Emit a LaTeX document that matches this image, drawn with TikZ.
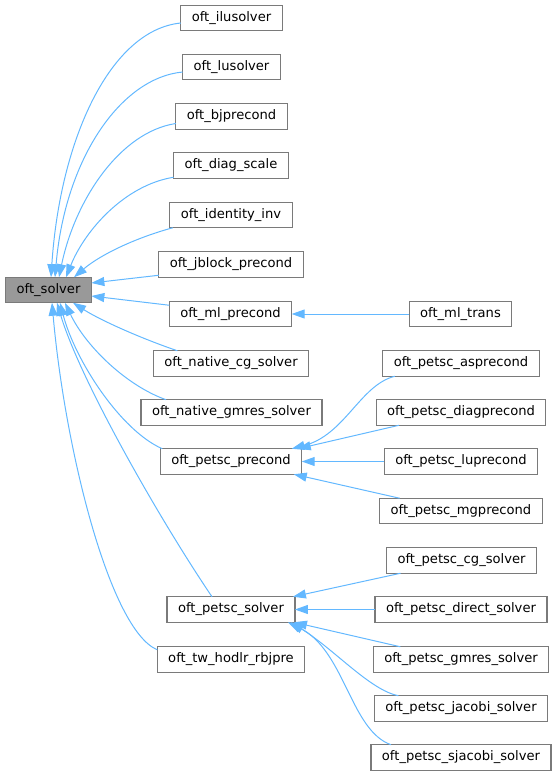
\documentclass[tikz,border=0pt]{standalone}
\usepackage{fontspec}
\setmainfont{DejaVu Sans}
\usetikzlibrary{positioning,arrows.meta}
\definecolor{edgeblue}{HTML}{63B8FF}
\definecolor{boxgray}{HTML}{7A7A7A}
\definecolor{basefill}{HTML}{999999}

\begin{document}
\begin{tikzpicture}[x=1pt,y=-1pt,outer sep=0pt,
  classA/.style={
    draw=boxgray,
    fill=white,
    line width=1.2pt,
    font={\fontsize{13.1}{15}\selectfont},
    inner xsep=11pt,
    inner ysep=0pt,
    minimum height=25.5pt,
    },
  classB/.style={classA,fill=basefill},
  inherit/.style={draw=edgeblue,line width=1pt,-{Triangle[length=13pt,width=9pt]}},
  ]

  \useasboundingbox (0,0) rectangle (557,776);

  \node[classB] (solver) at (48.5,290) {oft\_solver};

  \node[classA] (ilusolver) at (231.5,18) {oft\_ilusolver};
  \node[classA] (lusolver) at (231.5,67) {oft\_lusolver};
  \node[classA] (bjprecond) at (231.5,116.5) {oft\_bjprecond};
  \node[classA] (diagscale) at (231,165.5) {oft\_diag\_scale};
  \node[classA] (identityinv) at (231,215) {oft\_identity\_inv};
  \node[classA] (jblock) at (231,264.5) {oft\_jblock\_precond};
  \node[classA] (mlprecond) at (230.5,314) {oft\_ml\_precond};
  \node[classA] (nativecg) at (231,363.5) {oft\_native\_cg\_solver};
  \node[classA] (nativegmres) at (231.5,412.5) {oft\_native\_gmres\_solver};
  \node[classA] (petscprecond) at (231,461.5) {oft\_petsc\_precond};
  \node[classA] (petscsolver) at (231,609.5) {oft\_petsc\_solver};
  \node[classA] (twhodlr) at (231,659.5) {oft\_tw\_hodlr\_rbjpre};

  \node[classA] (mltrans) at (460.5,314) {oft\_ml\_trans};
  \node[classA] (asprecond) at (461,363.5) {oft\_petsc\_asprecond};
  \node[classA] (diagprecond) at (461,412.5) {oft\_petsc\_diagprecond};
  \node[classA] (luprecond) at (461,461.5) {oft\_petsc\_luprecond};
  \node[classA] (mgprecond) at (461,511) {oft\_petsc\_mgprecond};
  \node[classA] (cgsolver) at (461.5,560.5) {oft\_petsc\_cg\_solver};
  \node[classA] (directsolver) at (461,609.5) {oft\_petsc\_direct\_solver};
  \node[classA] (gmressolver) at (461,659.5) {oft\_petsc\_gmres\_solver};
  \node[classA] (jacobisolver) at (461,708.5) {oft\_petsc\_jacobi\_solver};
  \node[classA] (sjacobisolver) at (461,757.5) {oft\_petsc\_sjacobi\_solver};

  % into oft_solver, from above
  \draw[inherit] ([yshift=-5pt]ilusolver.west) .. controls (110,30) and (60,140) .. ([xshift=2.5pt]solver.north);
  \draw[inherit] ([yshift=-5pt]lusolver.west) .. controls (120,78) and (65,160) .. ([xshift=6.5pt]solver.north);
  \draw[inherit] ([yshift=-7pt]bjprecond.west) .. controls (120,132) and (75,200) .. ([xshift=10.5pt]solver.north);
  \draw[inherit] ([yshift=1pt]diagscale.south west) .. controls (125,185) and (85,230) .. ([xshift=17.5pt]solver.north);
  \draw[inherit] ([xshift=3pt]identityinv.south west) .. controls (135,238) and (100,255) .. ([xshift=25.5pt]solver.north);
  \draw[inherit] ([yshift=2pt]jblock.south west) -- ([yshift=7pt]solver.east);
  \draw[inherit] ([yshift=-4pt]mlprecond.north west) -- ([yshift=-6pt]solver.east);

  % into oft_solver, from below
  \draw[inherit] ([xshift=24pt]nativecg.north west) .. controls (140,338) and (100,320) .. ([xshift=24.5pt]solver.south);
  \draw[inherit] ([xshift=25pt]nativegmres.north west) .. controls (125,385) and (85,345) .. ([xshift=16.5pt]solver.south);
  \draw[inherit] ([xshift=2pt]petscprecond.north west) .. controls (120,430) and (75,360) .. ([xshift=11.5pt]solver.south);
  \draw[inherit] ([xshift=-19pt]petscsolver.north) .. controls (160,520) and (80,380) .. ([xshift=8.5pt]solver.south);
  \draw[inherit] ([yshift=-3pt]twhodlr.north west) .. controls (110,630) and (65,450) .. ([xshift=3.5pt]solver.south);

  % second level
  \draw[inherit] (mltrans.west) -- (mlprecond.east);

  \draw[inherit] ([xshift=12pt]asprecond.south west) .. controls (360,385) and (345,435) .. ([xshift=-10pt]petscprecond.north east);
  \draw[inherit] ([xshift=23pt]diagprecond.south west) -- ([xshift=-4pt]petscprecond.north east);
  \draw[inherit] (luprecond.west) -- (petscprecond.east);
  \draw[inherit] ([xshift=20pt]mgprecond.north west) -- ([xshift=-8pt]petscprecond.south east);

  \draw[inherit] ([xshift=14pt]cgsolver.south west) -- ([xshift=-2pt]petscsolver.north east);
  \draw[inherit] (directsolver.west) -- (petscsolver.east);
  \draw[inherit] ([xshift=27pt]gmressolver.north west) -- ([xshift=-1pt]petscsolver.south east);
  \draw[inherit] ([xshift=24pt]jacobisolver.north west) .. controls (370,690) and (335,650) .. ([xshift=-4pt]petscsolver.south east);
  \draw[inherit] ([xshift=20pt]sjacobisolver.north west) .. controls (350,730) and (345,650) .. ([xshift=-7pt]petscsolver.south east);

\end{tikzpicture}
\end{document}
